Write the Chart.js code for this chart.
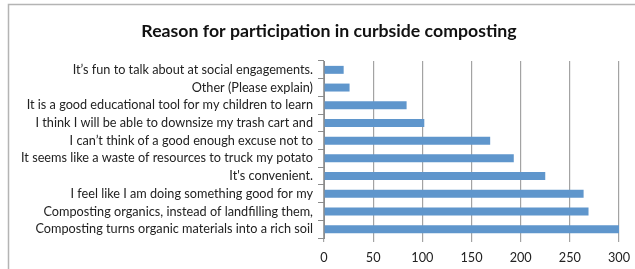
<!DOCTYPE html>
<html>
<head>
<meta charset="utf-8">
<script src="https://cdn.jsdelivr.net/npm/chart.js@4.4.1/dist/chart.umd.min.js"></script>
<style>
  html, body { margin: 0; padding: 0; background: #fff; }
  #wrap { width: 635px; height: 269px; position: relative; }
</style>
</head>
<body>
<div id="wrap"><canvas id="chart"></canvas></div>
<script>
// categories listed top to bottom as they appear in the chart
const reasons = [
  'It\u2019s fun to talk about at social engagements.',
  'Other (Please explain)',
  'It is a good educational tool for my children to learn',
  'I think I will be able to downsize my trash cart and',
  'I can\u2019t think of a good enough excuse not to',
  'It seems like a waste of resources to truck my potato',
  "It's convenient.",
  'I feel like I am doing something good for my',
  'Composting organics, instead of landfilling them,',
  'Composting turns organic materials into a rich soil'
];
const responses = [20, 26, 84, 102, 169, 193, 225, 264, 269, 300];
const xTicks = [0, 50, 100, 150, 200, 250, 300];

const chartTitle = 'Reason for participation in curbside composting';
const fontFamily = 'Lato, "Open Sans", sans-serif';

// grey frame on top/left plus the title, centred where the original sits
const framePlugin = {
  id: 'frame',
  beforeDraw(chart) {
    const ctx = chart.ctx;
    ctx.save();
    ctx.strokeStyle = '#b4b4b4';
    ctx.lineWidth = 1.5;
    ctx.beginPath();
    ctx.moveTo(8.5, 269);
    ctx.lineTo(8.5, 4.5);
    ctx.lineTo(635, 4.5);
    ctx.stroke();

    ctx.fillStyle = '#111';
    ctx.font = 'bold 17.7px ' + fontFamily;
    ctx.textAlign = 'center';
    ctx.textBaseline = 'middle';
    ctx.fillText(chartTitle, 329, 31);
    ctx.restore();
  }
};

const ctx = document.getElementById('chart').getContext('2d');
new Chart(ctx, {
  type: 'bar',
  data: {
    labels: reasons,
    datasets: [{
      label: 'Responses',
      data: responses,
      backgroundColor: '#5f96cc',
      borderWidth: 0,
      barPercentage: 0.45,
      categoryPercentage: 1
    }]
  },
  options: {
    indexAxis: 'y',
    responsive: true,
    maintainAspectRatio: false,
    animation: false,
    layout: {
      padding: { left: 12, right: 16, top: 61, bottom: 5 }
    },
    plugins: {
      legend: { display: false },
      tooltip: { enabled: false },
      title: { display: false }
    },
    scales: {
      x: {
        min: 0,
        max: 300,
        afterBuildTicks: scale => {
          scale.ticks = xTicks.map(v => ({ value: v }));
        },
        afterFit: scale => {
          scale.height = 26;
          scale.paddingLeft = 0;
          scale.paddingRight = 0;
        },
        grid: {
          color: '#a3a3a3',
          lineWidth: 1.2,
          tickLength: 4
        },
        border: { display: false },
        ticks: {
          color: '#222',
          padding: 8,
          maxRotation: 0,
          font: { family: fontFamily, size: 12.7 }
        }
      },
      y: {
        afterFit: scale => { scale.width = 312; },
        grid: {
          offset: true,
          drawOnChartArea: false,
          color: '#8c8c8c',
          tickLength: 6
        },
        border: { display: true, color: '#8c8c8c', width: 1 },
        ticks: {
          color: '#222',
          padding: 5,
          autoSkip: false,
          font: { family: fontFamily, size: 12.7 }
        }
      }
    }
  },
  plugins: [framePlugin]
});
</script>
</body>
</html>
